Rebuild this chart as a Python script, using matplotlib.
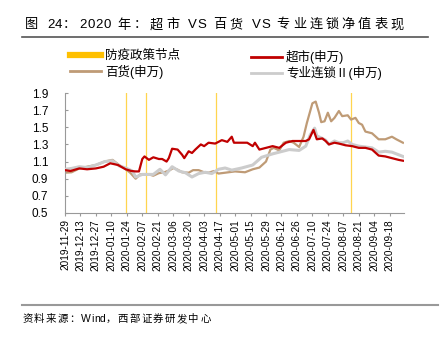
import pandas as pd
import matplotlib.pyplot as plt
from matplotlib.lines import Line2D

plt.rcParams['font.family'] = ['Liberation Sans', 'Noto Sans CJK SC']
plt.rcParams['axes.unicode_minus'] = False

start = pd.Timestamp('2019-11-29')

# days since 2019-11-29, net value
red_days = [0, 5, 13, 20, 28, 35, 41, 48, 55, 60, 64, 67, 70, 72, 76, 80, 85, 88, 92, 94,
            97, 102, 106, 108, 112, 115, 118, 123, 126, 130, 136, 142, 147, 151, 153, 157,
            165, 170, 172, 176, 182, 188, 194, 200, 206, 212, 218, 221, 225, 228, 233, 236,
            239, 244, 248, 254, 260, 266, 272, 278, 284, 290, 296, 302, 306]
red_vals = [1.00, 0.99, 1.02, 1.01, 1.02, 1.04, 1.08, 1.06, 1.01, 0.99, 0.985, 0.985, 1.13,
            1.16, 1.12, 1.15, 1.13, 1.13, 1.10, 1.14, 1.25, 1.24, 1.18, 1.14, 1.22, 1.20,
            1.24, 1.30, 1.28, 1.32, 1.31, 1.35, 1.33, 1.39, 1.32, 1.32, 1.32, 1.28, 1.32,
            1.24, 1.26, 1.28, 1.26, 1.32, 1.34, 1.34, 1.34, 1.36, 1.47, 1.36, 1.37, 1.34,
            1.30, 1.32, 1.31, 1.29, 1.28, 1.26, 1.26, 1.24, 1.17, 1.16, 1.14, 1.12, 1.11]

brown_days = [0, 6, 13, 20, 28, 36, 43, 49, 55, 59, 64, 68, 76, 80, 85, 90, 95, 98, 102,
              106, 112, 116, 121, 126, 130, 135, 139, 148, 154, 163, 170, 176, 182, 186,
              189, 194, 198, 203, 207, 212, 216, 219, 224, 227, 230, 232, 235, 238, 241,
              244, 248, 251, 256, 259, 263, 266, 269, 272, 278, 284, 290, 296, 300, 306]
brown_vals = [0.97, 0.975, 1.02, 1.04, 1.06, 1.10, 1.12, 1.06, 1.01, 0.97, 0.90, 0.95, 0.95,
              0.935, 0.965, 0.975, 1.00, 1.025, 1.005, 0.975, 0.97, 1.00, 1.00, 0.975, 0.97,
              0.99, 0.96, 0.975, 0.985, 0.975, 1.01, 1.03, 1.10, 1.24, 1.26, 1.23, 1.32,
              1.34, 1.32, 1.27, 1.39, 1.55, 1.78, 1.80, 1.67, 1.56, 1.57, 1.67, 1.57, 1.61,
              1.69, 1.63, 1.64, 1.59, 1.61, 1.55, 1.53, 1.45, 1.43, 1.36, 1.36, 1.39, 1.36,
              1.32]

gray_days = [0, 6, 13, 20, 28, 36, 43, 49, 55, 61, 64, 70, 80, 86, 91, 97, 103, 109, 115,
             121, 127, 133, 139, 145, 151, 160, 170, 178, 188, 197, 203, 212, 218, 222, 226,
             228, 233, 236, 239, 244, 248, 252, 256, 260, 266, 272, 278, 284, 290, 296, 302,
             306]
gray_vals = [1.01, 1.02, 1.04, 1.03, 1.06, 1.10, 1.11, 1.05, 1.025, 0.99, 0.92, 0.95, 0.95,
             1.01, 0.945, 1.04, 0.99, 0.97, 0.92, 0.96, 0.975, 0.96, 1.01, 1.025, 1.00,
             1.025, 1.06, 1.15, 1.19, 1.22, 1.24, 1.23, 1.28, 1.41, 1.49, 1.40, 1.37, 1.35,
             1.30, 1.34, 1.32, 1.32, 1.34, 1.30, 1.28, 1.27, 1.26, 1.21, 1.22, 1.21, 1.18,
             1.16]

policy_dates = ['2020-01-23', '2020-02-10', '2020-04-14', '2020-08-14']

labels = ['防疫政策节点', '超市(申万)', '百货(申万)', '专业连锁Ⅱ(申万)']
title = '图 24：2020 年：超市 VS 百货 VS 专业连锁净值表现'
source = '资料来源：Wind，西部证券研发中心'


def to_dates(days):
    return [start + pd.Timedelta(days=d) for d in days]


def spaced_text(fig, x, y, s, size, gap_cjk, gap_latin, space_w):
    # draw a string char by char with extra tracking (like the Word original)
    r = fig.canvas.get_renderer()
    xpx = x * fig.bbox.width
    for ch in s:
        if ch == ' ':
            xpx += space_w
            continue
        t = fig.text(xpx / fig.bbox.width, y, ch, fontsize=size, va='center', ha='left')
        w = t.get_window_extent(renderer=r).width
        xpx += w + (gap_cjk if ord(ch) > 0x2000 else gap_latin)


fig = plt.figure(figsize=(4.45, 3.37), dpi=100)
ax = fig.add_axes([0.146, 0.368, 0.762, 0.356])

for d in policy_dates:
    ax.axvline(pd.Timestamp(d), color='#FFD54F', linewidth=0.9, zorder=1)

ax.plot(to_dates(brown_days), brown_vals, color='#BF9B76', linewidth=1.6, zorder=2)
ax.plot(to_dates(gray_days), gray_vals, color='#CCCCCC', linewidth=2.2, zorder=3)
ax.plot(to_dates(red_days), red_vals, color='#C00000', linewidth=1.6, zorder=4)

ax.set_ylim(0.5, 1.9)
ax.set_yticks([0.5, 0.7, 0.9, 1.1, 1.3, 1.5, 1.7, 1.9])
ax.set_yticklabels(['0.5', '0.7', '0.9', '1.1', '1.3', '1.5', '1.7', '1.9'], fontsize=8.5)
ax.set_xlim(start, pd.Timestamp('2020-10-01'))
ticks = pd.date_range('2019-11-29', '2020-09-18', freq='14D')
ax.set_xticks(ticks)
ax.set_xticklabels([t.strftime('%Y-%m-%d') for t in ticks], rotation=90, fontsize=7.2)

for s in ['top', 'right']:
    ax.spines[s].set_visible(False)
for s in ['left', 'bottom']:
    ax.spines[s].set_color('#999999')
    ax.spines[s].set_linewidth(0.8)
ax.tick_params(axis='y', direction='in', length=2.5, color='#999999', pad=12)
ax.tick_params(axis='x', direction='out', length=2.5, color='#999999', pad=2)

# two one-column legends, left block and right block
leg_kw = dict(loc='upper left', frameon=False, fontsize=9, handlelength=2.5,
              handletextpad=0.3, labelspacing=0.2, borderaxespad=0, borderpad=0)
h_left = [Line2D([], [], color='#FFC000', linewidth=4.5),
          Line2D([], [], color='#BF9B76', linewidth=2)]
h_right = [Line2D([], [], color='#C00000', linewidth=2),
           Line2D([], [], color='#CCCCCC', linewidth=2)]
fig.legend(h_left, [labels[0], labels[2]], bbox_to_anchor=(70 / 445, 1 - 50 / 337), **leg_kw)
fig.legend(h_right, [labels[1], labels[3]], bbox_to_anchor=(251 / 445, 1 - 50 / 337), **leg_kw)

spaced_text(fig, 0.056, 0.925, title, 9.5, 3.0, 0.6, 6)
fig.add_artist(Line2D([0.05, 0.962], [0.89, 0.89], color='#555555', linewidth=1.2))
fig.add_artist(Line2D([0.05, 0.985], [0.095, 0.095], color='#999999', linewidth=1.5))
spaced_text(fig, 0.05, 0.053, source, 7.5, 1.4, 0.3, 3)

fig.savefig('out.png', dpi=100)
